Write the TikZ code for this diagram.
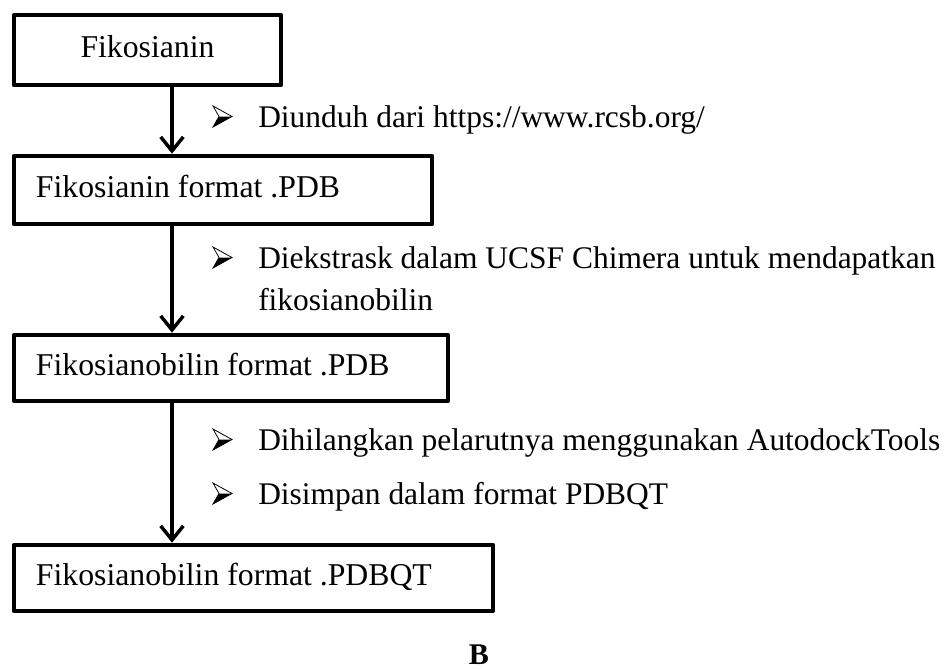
\documentclass[tikz,border=0pt]{standalone}
\usepackage{fontspec}
\setmainfont{Liberation Serif}
\usetikzlibrary{arrows.meta,calc}

\begin{document}
\begin{tikzpicture}[x=0.75pt,y=-0.75pt,
  box/.style={draw, line width=3.5pt, line join=round, inner xsep=0pt, inner ysep=0pt,
    text height=16.6pt, text depth=5.9pt,
    font=\fontsize{23.8}{28}\selectfont},
  item/.style={anchor=base west, inner sep=0pt, align=left,
    font=\fontsize{23.6}{31.5}\selectfont},
  flow/.style={line width=2.6pt, -{Straight Barb[length=10.5pt,width=17pt]}},
  % 3-D arrowhead bullet: light upper half, dark lower half
  bulletmark/.pic={
    \fill[black] (6,-10.5) -- (19,-10.5) -- (0,0) -- cycle;
    \draw[line width=0.6pt, line join=miter] (0,-21) -- (19,-10.5) -- (0,0) -- (6,-10.5) -- cycle;
  }]
\useasboundingbox (0,0) rectangle (947,669);

% process boxes (box width given by the fixed-width text line)
\node[box, minimum height=52.5pt] (b1) at (147.5,50) {\makebox[200.25pt][c]{Fikosianin}};
\node[box, minimum height=51pt] (b2) at (223,190) {\makebox[313.5pt][l]{\hspace*{16.5pt}Fikosianin format .PDB}};
\node[box, minimum height=49.5pt] (b3) at (231,368) {\makebox[325.5pt][l]{\hspace*{16.5pt}Fikosianobilin format .PDB}};
\node[box, minimum height=49.5pt] (b4) at (253.5,578) {\makebox[359.25pt][l]{\hspace*{16.5pt}Fikosianobilin format .PDBQT}};

% connectors run along one common vertical line
\coordinate (ax) at (172,0);
\draw[flow] (b1.south -| ax) -- (b2.north -| ax);
\draw[flow] (b2.south -| ax) -- (b3.north -| ax);
\draw[flow] (b3.south -| ax) -- (b4.north -| ax);

% step descriptions (a two-line node is anchored on its last baseline)
\node[item] (s1) at (258,127) {Diunduh dari https://www.rcsb.org/};
\node[item] (s2) at (258,310) {Diekstrask dalam UCSF Chimera untuk mendapatkan\\fikosianobilin};
\node[item] (s3) at (258,450) {Dihilangkan pelarutnya menggunakan AutodockTools};
\node[item] (s4) at (258,504) {Disimpan dalam format PDBQT};

% bullets in front of each step
\pic at ($(s1.base west)+(-45,0)$) {bulletmark};
\pic at ($(s2.base west)+(-45,-42)$) {bulletmark};
\pic at ($(s3.base west)+(-45,0)$) {bulletmark};
\pic at ($(s4.base west)+(-45,0)$) {bulletmark};

% panel label
\node[anchor=base, inner sep=0pt, font=\fontsize{22.5}{27}\selectfont\bfseries] (lab) at (479,664) {B};
\end{tikzpicture}
\end{document}
